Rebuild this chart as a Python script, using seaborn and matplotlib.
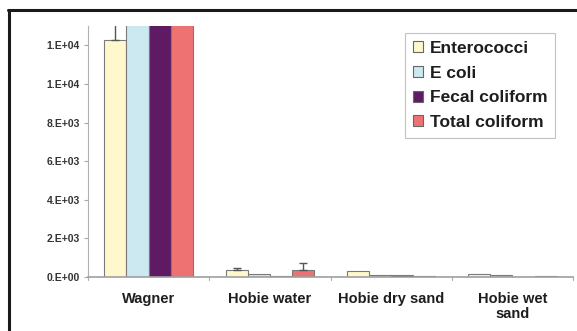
import matplotlib
matplotlib.use("Agg")
import matplotlib.pyplot as plt
from matplotlib.lines import Line2D
import seaborn as sns
import pandas as pd
import numpy as np

sites = ["Wagner", "Hobie water", "Hobie dry sand", "Hobie wet\nsand"]
indicators = ["Enterococci", "E coli", "Fecal coliform", "Total coliform"]

enterococci = [12300, 360, 300, 130]
e_coli = [24000, 160, 100, 110]
fecal_coliform = [150000, 50, 120, 20]
total_coliform = [240000, 340, 50, 50]

enterococci_err = [1500, 120, 0, 0]
e_coli_err = [0, 0, 0, 0]
fecal_coliform_err = [20000, 0, 0, 0]
total_coliform_err = [30000, 380, 0, 0]

y_ticks = [0, 2000, 4000, 6000, 8000, 10000, 12000]
y_tick_labels = ["0.E+00", "2.E+03", "4.E+03", "6.E+03", "8.E+03", "1.E+04", "1.E+04"]

colors = ["#FFF8CC", "#CCE8F0", "#5E1B63", "#EE7272"]

values = [enterococci, e_coli, fecal_coliform, total_coliform]
errors = [enterococci_err, e_coli_err, fecal_coliform_err, total_coliform_err]

rows = []
for name, vals, errs in zip(indicators, values, errors):
    for site, v, e in zip(sites, vals, errs):
        rows.append({"site": site, "indicator": name, "count": v, "err": e})
df = pd.DataFrame(rows)

sns.set_style("white")
plt.rcParams["font.family"] = ["Liberation Sans", "DejaVu Sans"]

fig = plt.figure(figsize=(5.77, 3.31), dpi=100)
ax = fig.add_axes([88 / 577, 1 - 277 / 331, (573 - 88) / 577, (277 - 26) / 331])

sns.barplot(data=df, x="site", y="count", hue="indicator", order=sites,
            hue_order=indicators, palette=colors, width=0.73, errorbar=None,
            edgecolor="#7a7a7a", linewidth=0.8, saturation=1, ax=ax)

# error bars on top of each bar, placed from the bar patches
for container, name in zip(ax.containers, indicators):
    sub = df[df["indicator"] == name].set_index("site").loc[sites]
    for patch, (_, r) in zip(container.patches, sub.iterrows()):
        if r["err"] > 0:
            xc = patch.get_x() + patch.get_width() / 2
            ax.errorbar(xc, r["count"], yerr=[[0], [r["err"]]], fmt="none",
                        ecolor="#555555", elinewidth=1.0, capsize=3,
                        capthick=1.0, zorder=5)

ax.set_ylim(0, 13000)
ax.set_xlim(-0.5, len(sites) - 0.5)
ax.set_yticks(y_ticks)
ax.set_yticklabels(y_tick_labels, fontsize=7.5, fontweight="heavy", color="#333333")
ax.set_xticks(range(len(sites)))
ax.set_xticklabels(sites, fontsize=10.5, fontweight="heavy", color="#1e1e1e",
                   linespacing=1.05)
ax.tick_params(axis="x", length=0, pad=11)
ax.tick_params(axis="y", length=3, color="#aaaaaa", width=0.8, pad=3, left=True)
# small ticks at category boundaries
for b in np.arange(-0.5, len(sites), 1.0):
    ax.plot([b, b], [0, -180], color="#aaaaaa", lw=0.8, clip_on=False)
ax.set_xlabel("")
ax.set_ylabel("")
for s in ["top", "right"]:
    ax.spines[s].set_visible(False)
ax.spines["left"].set_color("#b0b0b0")
ax.spines["bottom"].set_color("#a0a0a0")
ax.spines["left"].set_linewidth(0.8)
ax.spines["bottom"].set_linewidth(1.2)

leg = ax.legend(loc="upper right", bbox_to_anchor=(555 / 577, 1 - 33 / 331),
                bbox_transform=fig.transFigure, frameon=True, fancybox=False,
                prop={"weight": "heavy", "size": 12.5}, handlelength=0.62,
                handleheight=0.62, handletextpad=0.35, labelspacing=0.56,
                borderpad=0.45, borderaxespad=0)
leg.get_frame().set_edgecolor("#b5b5b5")
leg.get_frame().set_linewidth(0.8)
for h in leg.legend_handles:
    h.set_edgecolor("#666666")
for t in leg.get_texts():
    t.set_color("#1e1e1e")

# frame lines at top and left of the figure
fig.add_artist(Line2D([8 / 577, 1], [1 - 10 / 331, 1 - 10 / 331], color="#1a1a1a", lw=2.2))
fig.add_artist(Line2D([9 / 577, 9 / 577], [0, 1 - 10 / 331], color="#1a1a1a", lw=2.2))

fig.savefig("out.png", dpi=100, facecolor="white")
